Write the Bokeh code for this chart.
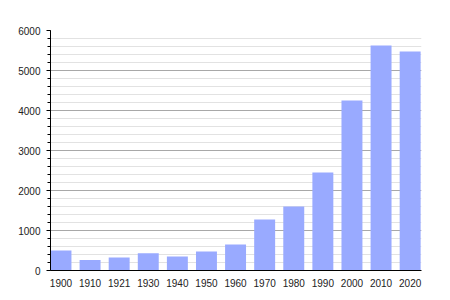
from bokeh.plotting import figure
from bokeh.models import Range1d, FixedTicker, ColumnDataSource
from bokeh.embed import file_html
from bokeh.resources import INLINE

years = ["1900", "1910", "1921", "1930", "1940", "1950", "1960",
         "1970", "1980", "1990", "2000", "2010", "2020"]
population = [500, 265, 325, 430, 350, 475, 650,
              1275, 1600, 2450, 4250, 5625, 5475]
y_ticks = [0, 1000, 2000, 3000, 4000, 5000, 6000]

idx = list(range(len(years)))
src = ColumnDataSource(dict(x=idx, top=population))

p = figure(width=450, height=300, output_backend="svg", toolbar_location=None,
           x_range=Range1d(-0.36, len(years) - 1 + 0.39), y_range=Range1d(0, 6000),
           min_border_left=50, min_border_right=29, min_border_top=30,
           min_border_bottom=30)
p.background_fill_color = "white"
p.border_fill_color = "white"
p.outline_line_color = None

p.vbar(x="x", top="top", width=0.72, bottom=0, source=src,
       fill_color="#99aaff", line_color=None)

# grids
p.xgrid.grid_line_color = None
p.ygrid.grid_line_color = "#a8a8a8"
p.ygrid.minor_grid_line_color = "#e2e2e2"
p.ygrid.level = "underlay"

# y axis
yax = p.yaxis[0]
yax.ticker = FixedTicker(ticks=y_ticks, minor_ticks=list(range(0, 6001, 200)))
yax.axis_line_color = "black"
yax.major_tick_line_color = "black"
yax.minor_tick_line_color = "black"
yax.major_tick_out = 4
yax.major_tick_in = 0
yax.minor_tick_out = 3
yax.minor_tick_in = 0
yax.major_label_standoff = 6
yax.major_label_text_font = "Liberation Sans"
yax.major_label_text_font_size = "10px"
yax.major_label_text_color = "#222222"

# x axis
xax = p.xaxis[0]
xax.ticker = FixedTicker(ticks=idx)
xax.major_label_overrides = {i: y for i, y in enumerate(years)}
xax.axis_line_color = "black"
xax.major_tick_line_color = None
xax.minor_tick_line_color = None
xax.major_label_standoff = 2
xax.major_label_text_font = "Liberation Sans"
xax.major_label_text_font_size = "10px"
xax.major_label_text_color = "#222222"

open("out.html", "w").write(file_html(p, INLINE))
